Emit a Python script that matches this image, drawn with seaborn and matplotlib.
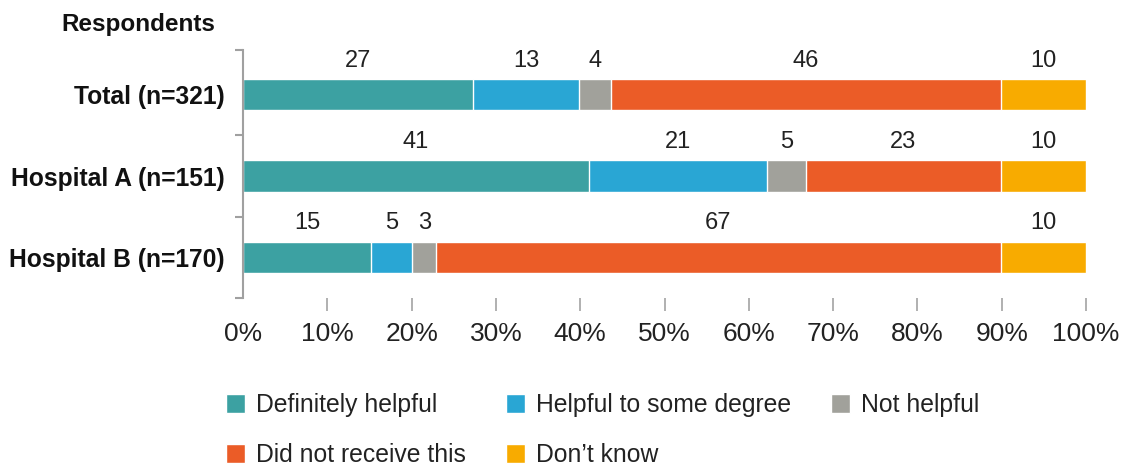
import numpy as np
import pandas as pd
import seaborn as sns
import matplotlib.pyplot as plt
from matplotlib.patches import Patch

# segment shares (%), printed labels are the rounded values
groups = ["Total (n=321)", "Hospital A (n=151)", "Hospital B (n=170)"]
answers = ["Definitely helpful", "Helpful to some degree", "Not helpful",
           "Did not receive this", "Don\u2019t know"]
total = [27.3, 12.6, 3.7, 46.3, 10.1]
hospital_a = [41.0, 21.2, 4.6, 23.1, 10.1]
hospital_b = [15.2, 4.9, 2.8, 67.0, 10.1]
colors = ["#3ca1a2", "#29a6d4", "#a1a19b", "#eb5c27", "#f8ab00"]
xticks = [0, 10, 20, 30, 40, 50, 60, 70, 80, 90, 100]

sns.set_theme(style="white")
plt.rcParams['font.family'] = ['Liberation Sans', 'DejaVu Sans']

df = pd.DataFrame([total, hospital_a, hospital_b], index=groups, columns=answers)
cum = df.cumsum(axis=1)

fig = plt.figure(figsize=(11.3, 4.66), dpi=100)
ax = fig.add_axes([243 / 1130, 1 - 298 / 466, (1086 - 243) / 1130, (298 - 50) / 466])

# stacked bars: draw cumulative totals from the widest down
for ans, col in reversed(list(zip(answers, colors))):
    sns.barplot(x=cum[ans].values, y=groups, color=col, orient="h",
                width=0.385, ax=ax, saturation=1)

# value labels above each segment
for i, g in enumerate(groups):
    left = 0
    for ans in answers:
        v = df.loc[g, ans]
        ax.text(left + v / 2, i - 0.42, f"{v:.0f}", ha="center", va="center",
                fontsize=17, color="#222222")
        left += v

ax.set_xlim(0, 100)
ax.set_ylim(2.5, -0.55)
ax.set_xticks(xticks)
ax.set_xticklabels([f"{t}%" for t in xticks], fontsize=19, color="#222222")
ax.tick_params(axis="x", direction="out", length=9, width=1.3, color="#aaaaaa",
               pad=8, bottom=True)
ax.xaxis.get_major_ticks()[0].tick1line.set_visible(False)

ax.set_yticks(range(len(groups)))
ax.set_yticklabels(groups, fontsize=17.7, fontweight="bold", color="#111111")
ax.set_yticks([-0.55, 0.5, 1.5, 2.5], minor=True)
ax.tick_params(axis="y", which="major", length=0, pad=13)
ax.tick_params(axis="y", which="minor", direction="out", length=6, width=1.5,
               color="#a0a0a0", left=True)
ax.set_xlabel("")
ax.set_ylabel("")

for s in ["top", "right", "bottom"]:
    ax.spines[s].set_visible(False)
ax.spines["left"].set_color("#a0a0a0")
ax.spines["left"].set_linewidth(1.5)

fig.text(215 / 1130, 1 - 25 / 466, "Respondents", ha="right", va="center",
         fontsize=17.5, fontweight="bold", color="#111111")

# legend: order so that rows read across
order = [0, 3, 1, 4, 2]
handles = [Patch(facecolor=colors[k], label=answers[k]) for k in order]
fig.legend(handles=handles, loc="upper left", ncol=3, frameon=False,
           bbox_to_anchor=(226 / 1130, 1 - 393 / 466), borderaxespad=0, borderpad=0,
           fontsize=17.8, handlelength=0.78, handleheight=0.78, handletextpad=0.45,
           labelspacing=1.05, columnspacing=1.6, labelcolor="#222222")

fig.savefig("out.png", dpi=100)
